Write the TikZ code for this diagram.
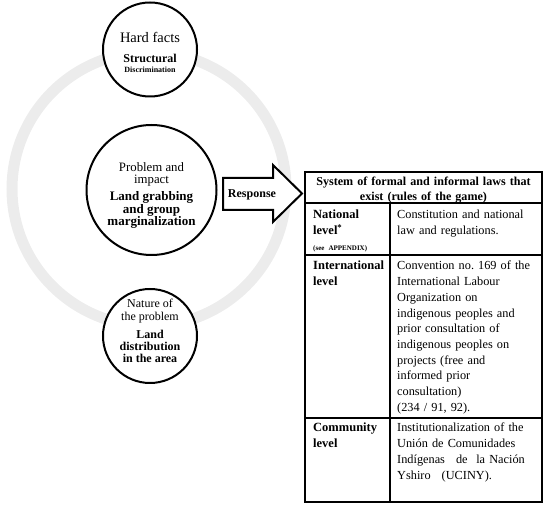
\documentclass[tikz,border=0pt]{standalone}
\usepackage{fontspec}
\setmainfont{Liberation Serif}
\definecolor{ringgray}{HTML}{ECECEC}
\frenchspacing
\begin{document}
\frenchspacing
\begin{tikzpicture}[x=1pt,y=-1pt,
  bubble/.style={circle, draw, fill=white, line width=2pt, inner sep=0pt},
  ctext/.style={align=center, inner sep=0pt},
  tline/.style={line width=1.6pt},
  cell/.style={anchor=base west, inner sep=0pt, align=left},
  lcell/.style={cell, text width=76pt, font=\fontsize{12.5}{15.7}\selectfont\bfseries},
  rcell/.style={cell, text width=140pt, font=\fontsize{12.3}{15.7}\selectfont}
]
\useasboundingbox (0,0) rectangle (550,510);
% background ring
\draw[ringgray, line width=11pt] (149,189) circle[radius=137pt];
% circles
\node[bubble, minimum size=94pt] (hard) at (150,49.5) {};
\node[bubble, minimum size=130pt] (prob) at (151.5,190) {};
\node[bubble, minimum size=94pt] (nat) at (150,336) {};
% top circle text
\node[ctext, font=\fontsize{14.5}{16}\selectfont] (hardt) at (150,37) {Hard facts};
\node[ctext, font=\fontsize{12}{13}\selectfont\bfseries] (struct) at (150,58) {Structural};
\node[ctext, font=\fontsize{8}{9}\selectfont\bfseries] (discr) at (150,70) {Discrimination};
% middle circle text
\node[ctext, font=\fontsize{12.8}{14}\selectfont] (probt) at (151.5,167) {Problem and};
\node[ctext, font=\fontsize{12.8}{14}\selectfont] (impt) at (151.5,181) {impact};
\node[ctext, font=\fontsize{13}{12.5}\selectfont\bfseries] (landg) at (151.5,210) {Land grabbing\\and group\\marginalization};
% bottom circle text
\node[ctext, font=\fontsize{12}{12.5}\selectfont] (natt) at (150,311) {Nature of\\the problem};
\node[ctext, font=\fontsize{12}{12}\selectfont\bfseries] (landd) at (150,346) {Land\\distribution\\in the area};
% block arrow
\draw[line width=2pt, fill=white, line join=miter] (223,178) -- (273,178) -- (273,165) -- (302,193.5) -- (273,222) -- (273,210) -- (223,210) -- cycle;
\node[ctext, font=\fontsize{12}{13}\selectfont\bfseries] (resp) at (252,195) {Response};
% table
\draw[tline] (305,172) rectangle (542,502);
\draw[tline] (305,203) -- (542,203);
\draw[tline] (305,255) -- (542,255);
\draw[tline] (305,418) -- (542,418);
\draw[tline] (390,203) -- (390,502);
\node[cell, anchor=base, align=center, text width=235pt, font=\fontsize{12.1}{15}\selectfont\bfseries] (head) at (423.5,186) {System of formal and informal laws that\\exist (rules of the game)};
\node[lcell] (natl) at (313,219) {National\\level\textsuperscript{*}\\{\fontsize{7}{8}\selectfont (see APPENDIX)}};
\node[rcell] (natr) at (397,219) {Constitution and national\\law and regulations.};
\node[lcell] (intl) at (313,270) {International\\level};
\node[rcell] (intr) at (397,270) {Convention no. 169 of the\\International Labour\\Organization on\\indigenous peoples and\\prior consultation of\\indigenous peoples on\\projects (free and\\informed prior\\consultation)\\(234 / 91, 92).};
\node[lcell] (coml) at (313,432) {Community\\level};
\node[rcell] (comr) at (397,432) {Institutionalization of the\\Unión de Comunidades\\Indígenas\hspace{0.9em}de\hspace{0.7em}la Nación\\Yshiro\hspace{0.9em}(UCINY).};
\end{tikzpicture}
\end{document}
